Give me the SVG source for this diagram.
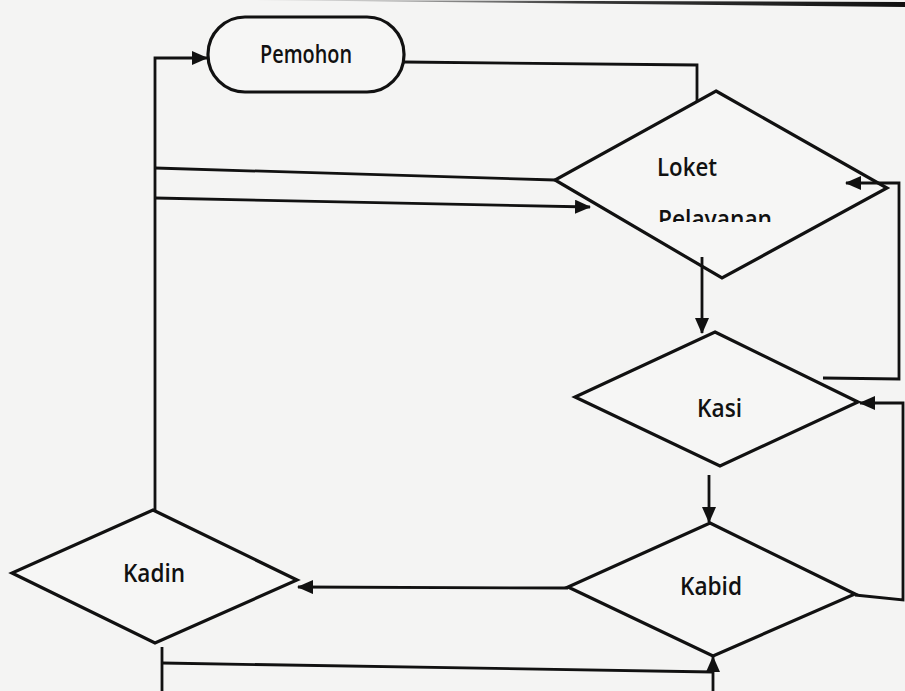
<svg xmlns="http://www.w3.org/2000/svg" width="905" height="691" viewBox="0 0 905 691">
  <defs>
    <marker id="arrow" markerUnits="userSpaceOnUse" markerWidth="16" markerHeight="14" refX="15" refY="7" orient="auto">
      <path d="M0,0 L16,7 L0,14 Z" fill="#111"/>
    </marker>
    <clipPath id="clipPel">
      <rect x="600" y="195" width="220" height="27"/>
    </clipPath>
    <linearGradient id="edge" x1="0" y1="0" x2="1" y2="0">
      <stop offset="0" stop-color="#999" stop-opacity="0.3"/>
      <stop offset="0.5" stop-color="#222" stop-opacity="0.9"/>
      <stop offset="1" stop-color="#111"/>
    </linearGradient>
  </defs>
  <style>
    .shape { fill: #f6f6f5; stroke: #111; stroke-width: 3.2; stroke-linejoin: miter; }
    .conn { fill: none; stroke: #111; stroke-width: 2.8; }
    .label { font-family: "Open Sans", "Noto Sans", "Liberation Sans", sans-serif; font-size: 25px; font-weight: 600; fill: #111; }
  </style>
  <rect x="0" y="0" width="905" height="691" fill="#f4f4f3"/>
  <path d="M250,0 L905,2 L905,7 Z" fill="url(#edge)"/>

  <g id="pemohon">
    <rect class="shape" x="208" y="17" width="196" height="75" rx="37" ry="37"/>
    <text class="label" x="306" y="63" text-anchor="middle" font-size="22" textLength="92" lengthAdjust="spacingAndGlyphs">Pemohon</text>
  </g>

  <g id="loket">
    <polygon class="shape" points="716,91 887,188 722,278 555,180"/>
    <text class="label" x="657" y="176" textLength="60" lengthAdjust="spacingAndGlyphs">Loket</text>
    <text class="label" x="658" y="228" textLength="114" lengthAdjust="spacingAndGlyphs" clip-path="url(#clipPel)">Pelayanan</text>
  </g>

  <g id="kasi">
    <polygon class="shape" points="715,332 858,402 720,466 575,397"/>
    <text class="label" x="697" y="417" textLength="45" lengthAdjust="spacingAndGlyphs">Kasi</text>
  </g>

  <g id="kabid">
    <polygon class="shape" points="710,523 855,594 713,656 568,587"/>
    <text class="label" x="680" y="595" textLength="62" lengthAdjust="spacingAndGlyphs">Kabid</text>
  </g>

  <g id="kadin">
    <polygon class="shape" points="153,510 297,580 155,643 12,573"/>
    <text class="label" x="123" y="582" textLength="62" lengthAdjust="spacingAndGlyphs">Kadin</text>
  </g>

  <g id="connectors">
    <path class="conn" d="M155,510 L155,58 L207,58" marker-end="url(#arrow)"/>
    <path class="conn" d="M404,62 L697,65 L697,102"/>
    <path class="conn" d="M155,168 L555,180"/>
    <path class="conn" d="M155,198 L590,207" marker-end="url(#arrow)"/>
    <path class="conn" d="M702,257 L702,333" marker-end="url(#arrow)"/>
    <path class="conn" d="M823,378 L899,379 L899,183 L846,183" marker-end="url(#arrow)"/>
    <path class="conn" d="M855,595 L903,600 L903,403 L860,403" marker-end="url(#arrow)"/>
    <path class="conn" d="M709,475 L709,522" marker-end="url(#arrow)"/>
    <path class="conn" d="M568,588 L298,587" marker-end="url(#arrow)"/>
    <path class="conn" d="M162,647 L162,691"/>
    <path class="conn" d="M162,663 L713,672"/>
    <path class="conn" d="M713,691 L713,657" marker-end="url(#arrow)"/>
  </g>
</svg>
